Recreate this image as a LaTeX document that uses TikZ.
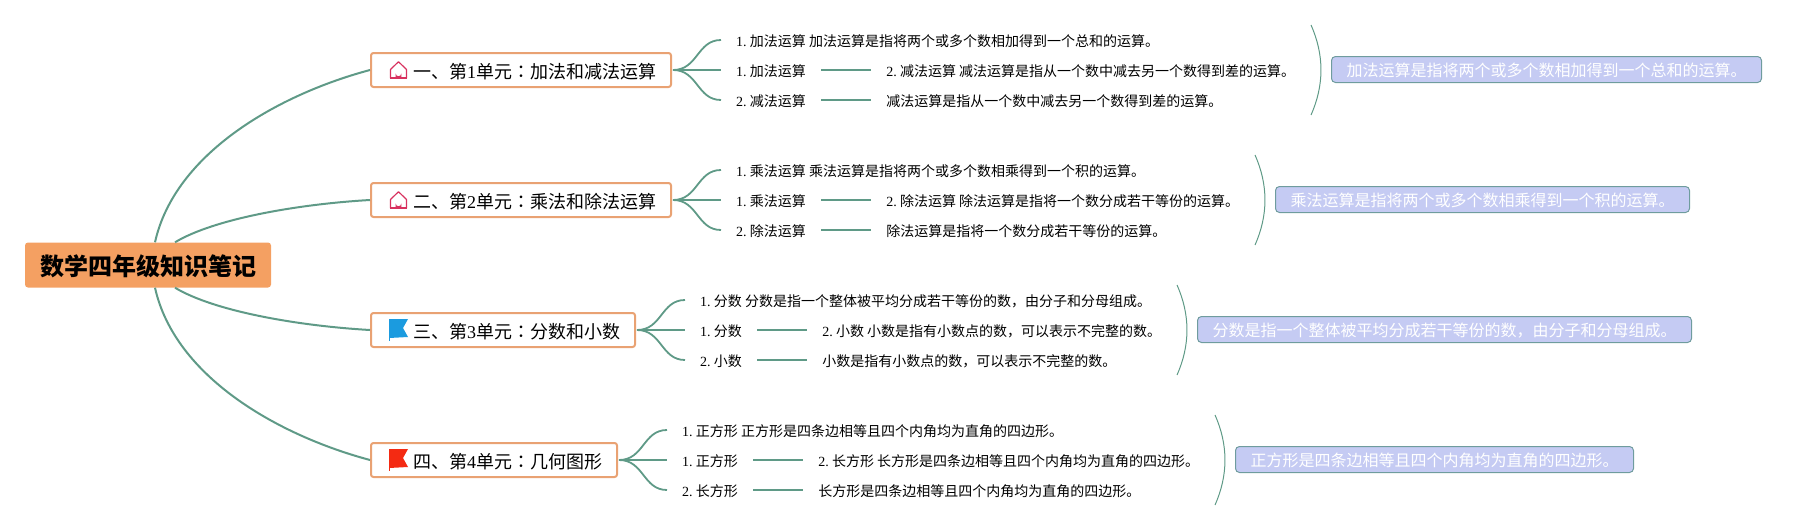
\documentclass[tikz,border=0pt]{standalone}
\usepackage{fontspec}
\setmainfont{Noto Sans CJK SC}
\newfontfamily\latinface{Liberation Serif}
\newfontfamily\colonface{Noto Sans CJK TC}
\newcommand{\lat}[1]{{\latinface #1}}
\newcommand{\colonmark}{{\colonface ：}}
\newcommand{\rownum}[1]{{\latinface #1.}\hspace{3.2pt}}
\usetikzlibrary{arrows.meta, positioning}
\definecolor{linegreen}{HTML}{5F9A87}
\definecolor{boxorange}{HTML}{E9A273}
\definecolor{rootorange}{HTML}{F4A062}
\definecolor{sumfill}{HTML}{C5CBF3}
\definecolor{sumline}{HTML}{6F9C9E}
\definecolor{homepink}{HTML}{D8325F}
\definecolor{flagblue}{HTML}{1B9BDF}
\definecolor{flagred}{HTML}{F42A12}

\begin{document}
\begin{tikzpicture}[
    x=1pt, y=-1pt,
    root/.style={fill=rootorange, rounded corners=3pt, minimum width=246pt, minimum height=45pt, inner sep=0pt, text height=21pt, text depth=0.5pt, font=\fontsize{24pt}{28pt}\selectfont\bfseries},
    unit/.style={draw=boxorange, line width=2pt, fill=white, rounded corners=2.5pt, minimum height=34pt, inner xsep=15pt, inner ysep=0pt, anchor=west, text height=17pt, text depth=0.4pt, font=\fontsize{18pt}{22pt}\selectfont},
    rowtext/.style={inner xsep=15pt, inner ysep=0pt, text height=13pt, text depth=0.6pt, font=\fontsize{14pt}{16pt}\selectfont},
    sumbox/.style={draw=sumline, line width=1pt, fill=sumfill, rounded corners=4pt, text=white, minimum height=26pt, inner xsep=15pt, inner ysep=0pt, anchor=west, text height=14.5pt, text depth=0.2pt, font=\fontsize{16pt}{18pt}\selectfont},
    mainline/.style={draw=linegreen, line width=2pt},
    branch/.style={draw=linegreen, line width=1.8pt},
    bracket/.style={draw=linegreen, line width=1pt},
    homeicon/.pic={
        \draw[homepink, line width=1.2pt, line join=round] (-8,-1) -- (0,-8.8) -- (8,-1) -- (8,7.5) -- (-8,7.5) -- cycle;
        \fill[homepink] (-2.8,8) -- (-2.8,3) arc[start angle=180, end angle=0, radius=2.8] -- (2.8,8) -- cycle;
        \fill[homepink] (-8.6,6) rectangle (8.6,8.2);
    },
    flagicon/.pic={
        \draw[line width=1pt, #1] (0.5,0) -- (0.5,22);
        \fill[#1] (0,0) -- (19,0) -- (14,9) -- (19,18) -- (0,19) -- cycle;
    }
]
\useasboundingbox (0,0) rectangle (1807,530);

\node[root] (book) at (148,265) {数学四年级知识笔记};

\node[unit] (unit1) at (370,70) {\hspace*{27pt}一、第\lat{1}单元\colonmark 加法和减法运算};
\node[unit] (unit2) at (370,200) {\hspace*{27pt}二、第\lat{2}单元\colonmark 乘法和除法运算};
\node[unit] (unit3) at (370,330) {\hspace*{27pt}三、第\lat{3}单元\colonmark 分数和小数};
\node[unit] (unit4) at (370,460) {\hspace*{27pt}四、第\lat{4}单元\colonmark 几何图形};

\pic at (398.5,70.5) {homeicon};
\pic at (398.5,200.5) {homeicon};
\pic at (389,319) {flagicon=flagblue};
\pic at (389,449) {flagicon=flagred};

\draw[mainline] ([xshift=7pt]book.north) .. controls +(20,-90) and +(-90,24) .. (unit1.west);
\draw[mainline] ([xshift=27pt]book.north) .. controls +(40,-24) and +(-70,4) .. (unit2.west);
\draw[mainline] ([xshift=27pt]book.south) .. controls +(40,24) and +(-70,-4) .. (unit3.west);
\draw[mainline] ([xshift=7pt]book.south) .. controls +(20,90) and +(-90,-24) .. (unit4.west);

% first unit
\node[rowtext, anchor=west] (add) at (721,40) {\rownum{1}加法运算 加法运算是指将两个或多个数相加得到一个总和的运算。};
\node[rowtext, anchor=west] (addname) at (721,70) {\rownum{1}加法运算};
\node[rowtext, anchor=west] (subname) at (721,100) {\rownum{2}减法运算};
\node[rowtext, right=50pt of addname] (sub) {\rownum{2}减法运算 减法运算是指从一个数中减去另一个数得到差的运算。};
\node[rowtext, right=50pt of subname] (subtext) {减法运算是指从一个数中减去另一个数得到差的运算。};

\draw[branch] (unit1.east) ++(1,0) coordinate (fork1) .. controls +(25,0) and +(-24,0) .. (add.west);
\draw[branch] (fork1) -- (addname.west);
\draw[branch] (fork1) .. controls +(25,0) and +(-24,0) .. (subname.west);
\draw[branch] (addname) -- (sub);
\draw[branch] (subname) -- (subtext);

\node[sumbox] (sum1) at (1331,69.5) {加法运算是指将两个或多个数相加得到一个总和的运算。};
\draw[bracket] ([shift={(-20,-44.5)}]sum1.west) .. controls +(13.3,30) and +(13.3,-30) .. ([shift={(-20,45.5)}]sum1.west);

% second unit
\node[rowtext, anchor=west] (mul) at (721,170) {\rownum{1}乘法运算 乘法运算是指将两个或多个数相乘得到一个积的运算。};
\node[rowtext, anchor=west] (mulname) at (721,200) {\rownum{1}乘法运算};
\node[rowtext, anchor=west] (divname) at (721,230) {\rownum{2}除法运算};
\node[rowtext, right=50pt of mulname] (div) {\rownum{2}除法运算 除法运算是指将一个数分成若干等份的运算。};
\node[rowtext, right=50pt of divname] (divtext) {除法运算是指将一个数分成若干等份的运算。};

\draw[branch] (unit2.east) ++(1,0) coordinate (fork2) .. controls +(25,0) and +(-24,0) .. (mul.west);
\draw[branch] (fork2) -- (mulname.west);
\draw[branch] (fork2) .. controls +(25,0) and +(-24,0) .. (divname.west);
\draw[branch] (mulname) -- (div);
\draw[branch] (divname) -- (divtext);

\node[sumbox] (sum2) at (1275,199.5) {乘法运算是指将两个或多个数相乘得到一个积的运算。};
\draw[bracket] ([shift={(-20,-44.5)}]sum2.west) .. controls +(13.3,30) and +(13.3,-30) .. ([shift={(-20,45.5)}]sum2.west);

% third unit
\node[rowtext, anchor=west] (frac) at (685,300) {\rownum{1}分数 分数是指一个整体被平均分成若干等份的数，由分子和分母组成。};
\node[rowtext, anchor=west] (fracname) at (685,330) {\rownum{1}分数};
\node[rowtext, anchor=west] (decname) at (685,360) {\rownum{2}小数};
\node[rowtext, right=50pt of fracname] (dec) {\rownum{2}小数 小数是指有小数点的数，可以表示不完整的数。};
\node[rowtext, right=50pt of decname] (dectext) {小数是指有小数点的数，可以表示不完整的数。};

\draw[branch] (unit3.east) ++(1,0) coordinate (fork3) .. controls +(25,0) and +(-24,0) .. (frac.west);
\draw[branch] (fork3) -- (fracname.west);
\draw[branch] (fork3) .. controls +(25,0) and +(-24,0) .. (decname.west);
\draw[branch] (fracname) -- (dec);
\draw[branch] (decname) -- (dectext);

\node[sumbox] (sum3) at (1197,329.5) {分数是指一个整体被平均分成若干等份的数，由分子和分母组成。};
\draw[bracket] ([shift={(-20,-44.5)}]sum3.west) .. controls +(13.3,30) and +(13.3,-30) .. ([shift={(-20,45.5)}]sum3.west);

% fourth unit
\node[rowtext, anchor=west] (square) at (667,430) {\rownum{1}正方形 正方形是四条边相等且四个内角均为直角的四边形。};
\node[rowtext, anchor=west] (squarename) at (667,460) {\rownum{1}正方形};
\node[rowtext, anchor=west] (rectname) at (667,490) {\rownum{2}长方形};
\node[rowtext, right=50pt of squarename] (rect) {\rownum{2}长方形 长方形是四条边相等且四个内角均为直角的四边形。};
\node[rowtext, right=50pt of rectname] (recttext) {长方形是四条边相等且四个内角均为直角的四边形。};

\draw[branch] (unit4.east) ++(1,0) coordinate (fork4) .. controls +(25,0) and +(-24,0) .. (square.west);
\draw[branch] (fork4) -- (squarename.west);
\draw[branch] (fork4) .. controls +(25,0) and +(-24,0) .. (rectname.west);
\draw[branch] (squarename) -- (rect);
\draw[branch] (rectname) -- (recttext);

\node[sumbox] (sum4) at (1235,459.5) {正方形是四条边相等且四个内角均为直角的四边形。};
\draw[bracket] ([shift={(-20,-44.5)}]sum4.west) .. controls +(13.3,30) and +(13.3,-30) .. ([shift={(-20,45.5)}]sum4.west);

\end{tikzpicture}
\end{document}
